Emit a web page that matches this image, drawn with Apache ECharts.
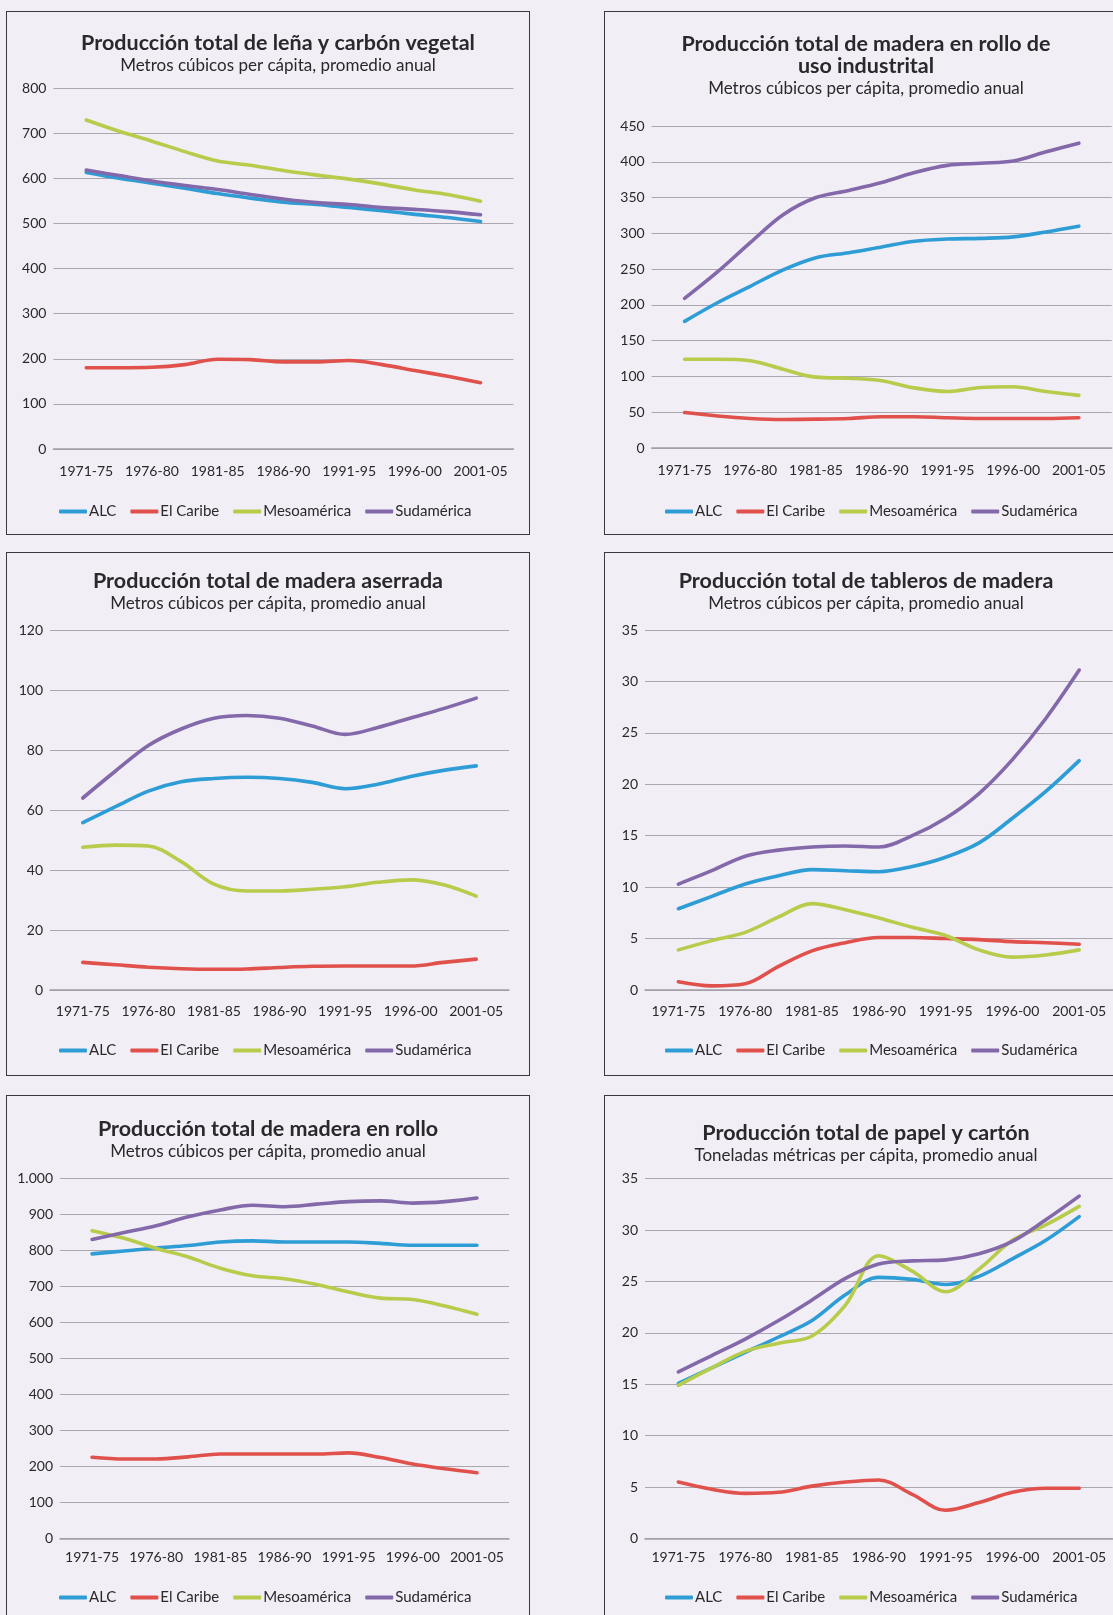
<!DOCTYPE html>
<html>
<head>
<meta charset="utf-8">
<script src="https://cdn.jsdelivr.net/npm/echarts@6/dist/echarts.min.js"></script>
<style>
  html, body { margin: 0; padding: 0; width: 1113px; height: 1615px; overflow: hidden; background: #f2eef6; }
  .chart { position: absolute; width: 524px; height: 524px; }
  .frame { position: absolute; width: 524px; height: 524px; box-sizing: border-box; border: 1.5px solid #3b393e; pointer-events: none; }
</style>
</head>
<body>
<div id="root"></div>
<script>
// Period labels and sample positions (half-period resolution)
const periods = ['1971-75', '1976-80', '1981-85', '1986-90', '1991-95', '1996-00', '2001-05'];
const samplePos = [0, 0.5, 1, 1.5, 2, 2.5, 3, 3.5, 4, 4.5, 5, 5.5, 6];
const regions = ['ALC', 'El Caribe', 'Mesoamérica', 'Sudamérica'];
const regionColors = ['#2e9dd6', '#e0514c', '#b8cc4c', '#8368aa'];

// Leña y carbón vegetal (m3 per cápita)
const lenaALC    = [613, 600, 589, 578, 566, 556, 547, 542, 535, 528, 520, 513, 504];
const lenaCaribe = [180, 180, 181, 187, 199, 198, 193, 193, 196, 187, 174, 161, 147];
const lenaMeso   = [729, 704, 682, 659, 638, 629, 617, 607, 598, 587, 574, 564, 549];
const lenaSud    = [618, 606, 594, 584, 575, 564, 554, 546, 542, 535, 531, 526, 519];

// Madera en rollo de uso industrial
const industALC    = [177, 203, 226, 249, 266, 273, 281, 289, 292, 293, 295, 302, 310];
const industCaribe = [49.5, 44.7, 41.3, 39.9, 40.3, 41.3, 43.7, 43.7, 42.3, 41.3, 41.3, 41.3, 42.3];
const industMeso   = [124, 124, 122, 110, 99, 97.5, 94, 84, 79, 84.5, 85.5, 79, 73.5];
const industSud    = [209, 246, 287, 326, 350, 360, 371, 385, 395, 398, 401, 414, 426];

// Madera aserrada
const aserrALC    = [55.8, 61.1, 66.3, 69.4, 70.5, 70.9, 70.5, 69.2, 67.1, 68.6, 71.2, 73.2, 74.7];
const aserrCaribe = [9.2, 8.4, 7.6, 7.1, 6.9, 7.0, 7.5, 7.9, 8.0, 8.0, 8.0, 9.2, 10.3];
const aserrMeso   = [47.6, 48.3, 48.0, 42.8, 35.3, 33.0, 33.0, 33.6, 34.4, 35.9, 36.7, 35.1, 31.3];
const aserrSud    = [64, 73, 81.5, 87, 90.6, 91.5, 90.6, 88, 85.2, 87.5, 90.7, 93.8, 97.3];

// Tableros de madera
const tablALC    = [7.9, 9.1, 10.3, 11.1, 11.7, 11.6, 11.5, 12.0, 12.9, 14.3, 16.7, 19.3, 22.3];
const tablCaribe = [0.8, 0.4, 0.6, 2.3, 3.8, 4.6, 5.1, 5.1, 5.0, 4.9, 4.7, 4.6, 4.45];
const tablMeso   = [3.9, 4.8, 5.6, 7.1, 8.4, 7.8, 7.0, 6.1, 5.3, 3.9, 3.2, 3.4, 3.9];
const tablSud    = [10.3, 11.6, 13.0, 13.6, 13.9, 14.0, 13.9, 15.0, 16.7, 19.1, 22.4, 26.4, 31.1];

// Madera en rollo
const rolloALC    = [791, 799, 807, 814, 824, 827, 824, 824, 824, 820, 815, 815, 815];
const rolloCaribe = [226, 221, 221, 227, 235, 235, 235, 235, 238, 225, 207, 194, 183];
const rolloMeso   = [855, 834, 806, 782, 751, 730, 722, 706, 685, 668, 664, 646, 623];
const rolloSud    = [831, 850, 869, 894, 913, 926, 922, 929, 936, 938, 932, 936, 946];

// Papel y cartón (toneladas métricas per cápita)
const papelALC    = [15.1, 16.6, 18.1, 19.6, 21.2, 23.7, 25.4, 25.2, 24.7, 25.5, 27.2, 29.0, 31.3];
const papelCaribe = [5.5, 4.8, 4.4, 4.5, 5.1, 5.5, 5.7, 4.3, 2.75, 3.5, 4.5, 4.9, 4.9];
const papelMeso   = [14.9, 16.6, 18.2, 19.0, 19.7, 22.7, 27.5, 26.0, 24.0, 26.2, 29.0, 30.5, 32.3];
const papelSud    = [16.2, 17.8, 19.4, 21.2, 23.2, 25.3, 26.7, 27.0, 27.1, 27.7, 28.9, 31.0, 33.3];

const FONT = 'Lato, "Open Sans", sans-serif';
const INK = '#2a282c';

const panels = [
  { x: 6, y: 11, title: 'Producción total de leña y carbón vegetal',
    sub: 'Metros cúbicos per cápita, promedio anual',
    series: [lenaALC, lenaCaribe, lenaMeso, lenaSud], yMax: 800, yStep: 100,
    titleX: 272, titleTop: 21, grid: { left: 47.4, top: 77, width: 460, height: 361 },
    labelMargin: 15, legendLeft: 53, legendTop: 493 },
  { x: 604, y: 11, title: 'Producción total de madera en rollo de\nuso industrital',
    sub: 'Metros cúbicos per cápita, promedio anual',
    series: [industALC, industCaribe, industMeso, industSud], yMax: 450, yStep: 50,
    titleX: 262, titleTop: 22, grid: { left: 47.7, top: 115, width: 460, height: 322 },
    labelMargin: 15, legendLeft: 61, legendTop: 493 },
  { x: 6, y: 552, title: 'Producción total de madera aserrada',
    sub: 'Metros cúbicos per cápita, promedio anual',
    series: [aserrALC, aserrCaribe, aserrMeso, aserrSud], yMax: 120, yStep: 20,
    titleX: 262, titleTop: 18, grid: { left: 44, top: 78, width: 459, height: 360 },
    labelMargin: 14, legendLeft: 53, legendTop: 491 },
  { x: 604, y: 552, title: 'Producción total de tableros de madera',
    sub: 'Metros cúbicos per cápita, promedio anual',
    series: [tablALC, tablCaribe, tablMeso, tablSud], yMax: 35, yStep: 5,
    titleX: 262, titleTop: 18, grid: { left: 41, top: 78, width: 467.6, height: 360 },
    labelMargin: 14, legendLeft: 61, legendTop: 491 },
  { x: 6, y: 1095, title: 'Producción total de madera en rollo',
    sub: 'Metros cúbicos per cápita, promedio anual',
    series: [rolloALC, rolloCaribe, rolloMeso, rolloSud], yMax: 1000, yStep: 100,
    titleX: 262, titleTop: 23, grid: { left: 54, top: 83.6, width: 449, height: 360 },
    labelMargin: 12, legendLeft: 53, legendTop: 495 },
  { x: 604, y: 1095, title: 'Producción total de papel y cartón',
    sub: 'Toneladas métricas per cápita, promedio anual',
    series: [papelALC, papelCaribe, papelMeso, papelSud], yMax: 35, yStep: 5,
    titleX: 262, titleTop: 27, grid: { left: 41, top: 83.6, width: 467.6, height: 360 },
    labelMargin: 12, legendLeft: 61, legendTop: 495 }
];

function withDots(v) {
  return String(v).replace(/\B(?=(\d{3})+(?!\d))/g, '.');
}

const root = document.getElementById('root');
panels.forEach(p => {
  const el = document.createElement('div');
  el.className = 'chart';
  el.style.left = p.x + 'px';
  el.style.top = p.y + 'px';
  root.appendChild(el);
  const frame = document.createElement('div');
  frame.className = 'frame';
  frame.style.left = p.x + 'px';
  frame.style.top = p.y + 'px';
  root.appendChild(frame);

  const chart = echarts.init(el, null, { renderer: 'canvas' });
  chart.setOption({
    animation: false,
    backgroundColor: 'transparent',
    title: {
      text: p.title,
      subtext: p.sub,
      left: p.titleX,
      textAlign: 'center',
      top: p.titleTop,
      itemGap: 1,
      padding: 0,
      textStyle: { fontFamily: FONT, fontWeight: 'bold', fontSize: 21.5, lineHeight: 22, color: INK },
      subtextStyle: { fontFamily: FONT, fontSize: 17, lineHeight: 22, color: INK }
    },
    legend: {
      data: regions,
      left: p.legendLeft,
      top: p.legendTop,
      icon: 'roundRect',
      itemWidth: 28,
      itemHeight: 4,
      itemGap: 14,
      padding: 0,
      textStyle: { fontFamily: FONT, fontSize: 15, color: INK, padding: [0, 0, 0, -3] }
    },
    grid: Object.assign({ containLabel: false }, p.grid),
    xAxis: {
      type: 'value',
      min: -0.5,
      max: 6.5,
      interval: 0.5,
      splitLine: { show: false },
      axisTick: { show: false },
      axisLine: { show: true, lineStyle: { color: '#a19ea5', width: 1.5 } },
      axisLabel: {
        margin: p.labelMargin,
        fontFamily: FONT, fontSize: 14, color: INK,
        showMinLabel: true, showMaxLabel: true,
        formatter: v => {
          const r = Math.round(v);
          return Math.abs(v - r) < 1e-6 && r >= 0 && r < periods.length ? periods[r] : '';
        }
      }
    },
    yAxis: {
      type: 'value',
      min: 0,
      max: p.yMax,
      interval: p.yStep,
      axisLine: { show: false },
      axisTick: { show: false },
      splitLine: { lineStyle: { color: '#aaa7ae', width: 1.2 } },
      axisLabel: { margin: 7, fontFamily: FONT, fontSize: 14, color: INK, formatter: withDots }
    },
    series: p.series.map((vals, i) => ({
      name: regions[i],
      type: 'line',
      data: vals.map((v, k) => [samplePos[k], v]),
      smooth: 0.35,
      symbol: 'none',
      lineStyle: { width: 3.6, color: regionColors[i], cap: 'round', join: 'round' },
      itemStyle: { color: regionColors[i] },
      z: 2 + i
    }))
  });
});
</script>
</body>
</html>
